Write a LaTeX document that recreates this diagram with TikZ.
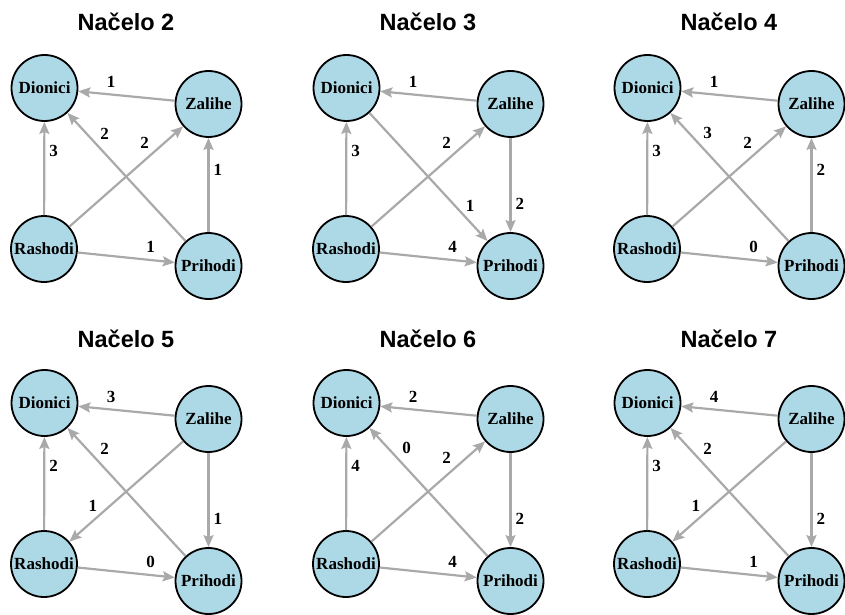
\documentclass[tikz,border=0pt]{standalone}
\usepackage{fontspec}
\setmainfont{Liberation Serif}
\newfontfamily\titlefont{Liberation Sans}
\usetikzlibrary{arrows.meta}

\definecolor{account-fill}{HTML}{ADD8E6}
\definecolor{flow-color}{HTML}{A9A9A9}

\begin{document}
\begin{tikzpicture}[x=1pt,y=-1pt,
account/.style={circle,draw=black,line width=1.8pt,fill=account-fill,minimum size=66pt,inner sep=0pt,font=\bfseries\fontsize{17}{17}\selectfont},
flow/.style={draw=flow-color,line width=2.2pt,-{Stealth[length=12pt,width=10pt,inset=2pt]}},
weight/.style={font=\bfseries\fontsize{17}{17}\selectfont,inner sep=1pt},
heading/.style={font=\titlefont\bfseries\fontsize{23.5}{28}\selectfont}]
\useasboundingbox (0,0) rectangle (845,615);

% Nacelo 2
\begin{scope}[shift={(0,0)}]
\node[heading] (T2) at (126,22) {Načelo 2};
\node[account] (D2) at (44.5,88) {Dionici};
\node[account] (Z2) at (208.5,104) {Zalihe};
\node[account] (R2) at (44,249) {Rashodi};
\node[account] (P2) at (208.5,266) {Prihodi};
\draw[flow] (Z2) -- node[weight,pos=.66,above=5pt] {1} (D2);
\draw[flow] (R2) -- node[weight,pos=.69,right=3pt] {3} (D2);
\draw[flow] (P2) -- node[weight,pos=.76,above right=2.5pt] {2} (D2);
\draw[flow] (R2) -- node[weight,pos=.735,above left=2pt] {2} (Z2);
\draw[flow] (P2) -- node[weight,pos=.66,right=3pt] {1} (Z2);
\draw[flow] (R2) -- node[weight,pos=.75,above=5pt] {1} (P2);
\end{scope}
%
% Nacelo 3
\begin{scope}[shift={(302,0)}]
\node[heading] (T3) at (126,22) {Načelo 3};
\node[account] (D3) at (44.5,88) {Dionici};
\node[account] (Z3) at (208.5,104) {Zalihe};
\node[account] (R3) at (44,249) {Rashodi};
\node[account] (P3) at (208.5,266) {Prihodi};
\draw[flow] (Z3) -- node[weight,pos=.66,above=5pt] {1} (D3);
\draw[flow] (R3) -- node[weight,pos=.69,right=3pt] {3} (D3);
\draw[flow] (D3) -- node[weight,pos=.79,above right=1pt] {1} (P3);
\draw[flow] (R3) -- node[weight,pos=.735,above left=2pt] {2} (Z3);
\draw[flow] (Z3) -- node[weight,pos=.70,right=3pt] {2} (P3);
\draw[flow] (R3) -- node[weight,pos=.75,above=5pt] {4} (P3);
\end{scope}
%
% Nacelo 4
\begin{scope}[shift={(603,0)}]
\node[heading] (T4) at (126,22) {Načelo 4};
\node[account] (D4) at (44.5,88) {Dionici};
\node[account] (Z4) at (208.5,104) {Zalihe};
\node[account] (R4) at (44,249) {Rashodi};
\node[account] (P4) at (208.5,266) {Prihodi};
\draw[flow] (Z4) -- node[weight,pos=.66,above=5pt] {1} (D4);
\draw[flow] (R4) -- node[weight,pos=.69,right=3pt] {3} (D4);
\draw[flow] (P4) -- node[weight,pos=.76,above right=2.5pt] {3} (D4);
\draw[flow] (R4) -- node[weight,pos=.735,above left=2pt] {2} (Z4);
\draw[flow] (P4) -- node[weight,pos=.66,right=3pt] {2} (Z4);
\draw[flow] (R4) -- node[weight,pos=.75,above=5pt] {0} (P4);
\end{scope}
%
% Nacelo 5
\begin{scope}[shift={(0,315)}]
\node[heading] (T5) at (126,24) {Načelo 5};
\node[account] (D5) at (44.5,88) {Dionici};
\node[account] (Z5) at (208.5,104) {Zalihe};
\node[account] (R5) at (44,249) {Rashodi};
\node[account] (P5) at (208.5,266) {Prihodi};
\draw[flow] (Z5) -- node[weight,pos=.66,above=5pt] {3} (D5);
\draw[flow] (R5) -- node[weight,pos=.69,right=3pt] {2} (D5);
\draw[flow] (P5) -- node[weight,pos=.76,above right=2.5pt] {2} (D5);
\draw[flow] (Z5) -- node[weight,pos=.73,above left=1pt] {1} (R5);
\draw[flow] (Z5) -- node[weight,pos=.70,right=3pt] {1} (P5);
\draw[flow] (R5) -- node[weight,pos=.75,above=5pt] {0} (P5);
\end{scope}
%
% Nacelo 6
\begin{scope}[shift={(302,315)}]
\node[heading] (T6) at (126,24) {Načelo 6};
\node[account] (D6) at (44.5,88) {Dionici};
\node[account] (Z6) at (208.5,104) {Zalihe};
\node[account] (R6) at (44,249) {Rashodi};
\node[account] (P6) at (208.5,266) {Prihodi};
\draw[flow] (Z6) -- node[weight,pos=.66,above=5pt] {2} (D6);
\draw[flow] (R6) -- node[weight,pos=.69,right=3pt] {4} (D6);
\draw[flow] (P6) -- node[weight,pos=.76,above right=2.5pt] {0} (D6);
\draw[flow] (R6) -- node[weight,pos=.735,above left=2pt] {2} (Z6);
\draw[flow] (Z6) -- node[weight,pos=.70,right=3pt] {2} (P6);
\draw[flow] (R6) -- node[weight,pos=.75,above=5pt] {4} (P6);
\end{scope}
%
% Nacelo 7
\begin{scope}[shift={(603,315)}]
\node[heading] (T7) at (126,24) {Načelo 7};
\node[account] (D7) at (44.5,88) {Dionici};
\node[account] (Z7) at (208.5,104) {Zalihe};
\node[account] (R7) at (44,249) {Rashodi};
\node[account] (P7) at (208.5,266) {Prihodi};
\draw[flow] (Z7) -- node[weight,pos=.66,above=5pt] {4} (D7);
\draw[flow] (R7) -- node[weight,pos=.69,right=3pt] {3} (D7);
\draw[flow] (P7) -- node[weight,pos=.76,above right=2.5pt] {2} (D7);
\draw[flow] (Z7) -- node[weight,pos=.73,above left=1pt] {1} (R7);
\draw[flow] (Z7) -- node[weight,pos=.70,right=3pt] {2} (P7);
\draw[flow] (R7) -- node[weight,pos=.75,above=5pt] {1} (P7);
\end{scope}

\end{tikzpicture}
\end{document}
